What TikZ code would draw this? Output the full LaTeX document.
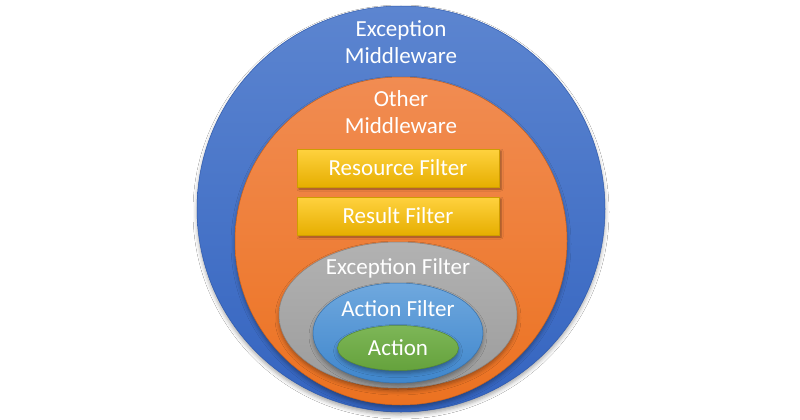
\documentclass[tikz,border=0pt]{standalone}
\usepackage{fontspec}
\setmainfont{Carlito}
\usetikzlibrary{shapes.geometric,shadows.blur}
\definecolor{blueT}{HTML}{5C85D0}
\definecolor{blueB}{HTML}{3464C0}
\definecolor{orT}{HTML}{F18C52}
\definecolor{orB}{HTML}{EC7221}
\definecolor{yeT}{HTML}{FFD23F}
\definecolor{yeB}{HTML}{E6AE00}
\definecolor{grT}{HTML}{B2B2B2}
\definecolor{grB}{HTML}{9C9C9C}
\definecolor{lbT}{HTML}{6FA8DE}
\definecolor{lbB}{HTML}{3F86CC}
\definecolor{gnT}{HTML}{7DB657}
\definecolor{gnB}{HTML}{65A23C}
\tikzset{
  lbl/.style={text=white, font=\fontsize{23}{27.5}\selectfont, inner sep=0pt, align=center},
  layer/.style={ellipse, inner sep=0pt, draw=#1, line width=0.5pt},
  softshadow/.style={blur shadow={shadow xshift=0pt, shadow yshift=-3pt, shadow blur radius=4pt, shadow opacity=35}},
  filterbox/.style={rectangle, inner sep=0pt, minimum width=202pt, minimum height=38pt,
    top color=yeT, bottom color=yeB, draw=yeB!90!black, line width=0.4pt,
    blur shadow={shadow xshift=2pt, shadow yshift=-2pt, shadow blur radius=2pt, shadow opacity=40}}
}
\begin{document}
\begin{tikzpicture}[x=1pt,y=-1pt]
\useasboundingbox (0,0) rectangle (800,420);
\fill[white] (0,0) rectangle (800,420);
% outer circle
\node[layer=blueB!90!black, minimum width=408pt, minimum height=406pt, top color=blueT, bottom color=blueB, softshadow] (em) at (401,209) {};
\node[lbl] (emt) at (401,42) {Exception\\Middleware};
% orange circle
\node[layer=orB!85!black, minimum width=332pt, minimum height=328pt, top color=orT, bottom color=orB, softshadow] (om) at (401,241) {};
\node[lbl] (omt) at (401,112) {Other\\Middleware};
% filter boxes
\node[filterbox] (rf) at (398,168) {};
\node[lbl] at (rf) {Resource Filter};
\node[filterbox] (rsf) at (398,216) {};
\node[lbl] at (rsf) {Result Filter};
% exception filter
\node[layer=grB!85!black, minimum width=238pt, minimum height=146pt, top color=grT, bottom color=grB, softshadow] (ef) at (398,315) {};
\node[lbl] (eft) at (398,268) {Exception Filter};
% action filter
\node[layer=lbB!85!black, minimum width=170pt, minimum height=100pt, top color=lbT, bottom color=lbB, softshadow] (af) at (398,333) {};
\node[lbl] (aft) at (398,309) {Action Filter};
% action
\node[layer=gnB!85!black, minimum width=121pt, minimum height=45pt, top color=gnT, bottom color=gnB, softshadow] (ac) at (398,348) {};
\node[lbl] (act) at (ac) {Action};
\end{tikzpicture}
\end{document}
